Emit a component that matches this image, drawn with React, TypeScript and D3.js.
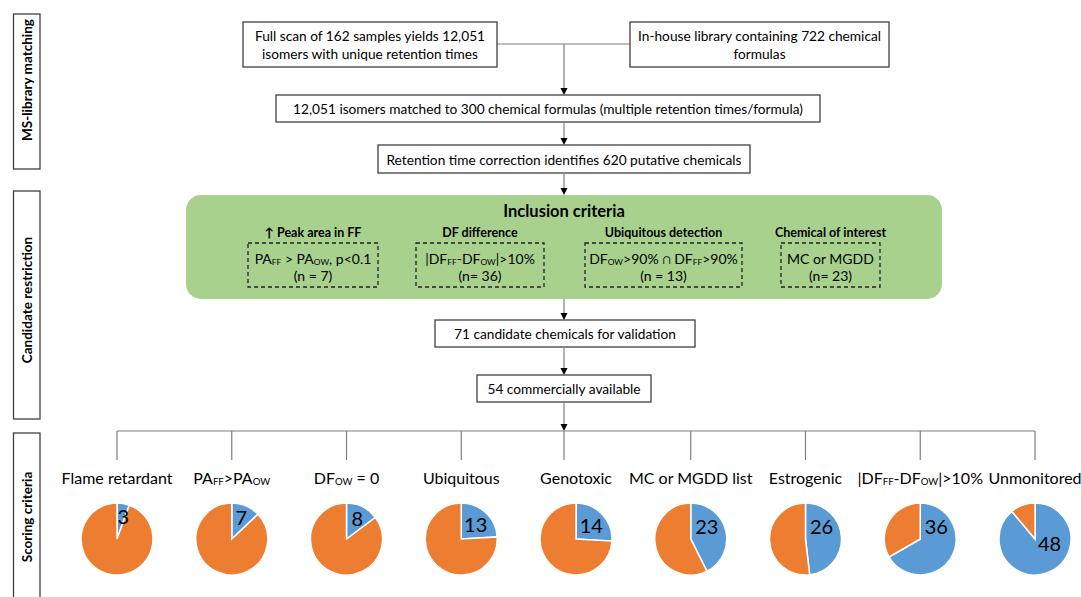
import * as d3 from 'd3';

// ---- data ----
const CRITERIA = [
  'Flame retardant',
  'PA_{FF}>PA_{OW}',
  'DF_{OW} = 0',
  'Ubiquitous',
  'Genotoxic',
  'MC or MGDD list',
  'Estrogenic',
  '|DF_{FF}-DF_{OW}|>10%',
  'Unmonitored',
];
const HITS = [3, 7, 8, 13, 14, 23, 26, 36, 48];
const TOTAL = 54;

const INCLUSION_HEADS = ['↑ Peak area in FF', 'DF difference', 'Ubiquitous detection', 'Chemical of interest'];
const INCLUSION_RULES = ['PA_{FF} > PA_{OW}, p<0.1', '|DF_{FF}-DF_{OW}|>10%', 'DF_{OW}>90% ∩ DF_{FF}>90%', 'MC or MGDD'];
const INCLUSION_N = ['(n = 7)', '(n= 36)', '(n = 13)', '(n= 23)'];

const SECTIONS = ['MS-library matching', 'Candidate restriction', 'Scoring criteria'];

// ---- layout ----
const W = 1081;
const H = 597;
const FONT = 'Lato, "Open Sans", sans-serif';
const FLOW_X = 564;
const LINE = '#7f7f7f';
const BOX_STROKE = '#404040';
const BLUE = '#5b9bd5';
const ORANGE = '#ed7d31';

// splits "PA_{FF}" into plain / subscript runs
function Rich({ s, fs }: { s: string; fs: number }) {
  const parts: { t: string; sub: boolean }[] = [];
  const re = /_\{([^}]*)\}/g;
  let last = 0;
  let m: RegExpExecArray | null;
  while ((m = re.exec(s))) {
    if (m.index > last) parts.push({ t: s.slice(last, m.index), sub: false });
    parts.push({ t: m[1], sub: true });
    last = m.index + m[0].length;
  }
  if (last < s.length) parts.push({ t: s.slice(last), sub: false });
  const shift = fs * 0.26;
  let prevSub = false;
  return (
    <>
      {parts.map((p, i) => {
        const dy = p.sub && !prevSub ? shift : !p.sub && prevSub ? -shift : 0;
        prevSub = p.sub;
        return (
          <tspan key={i} dy={dy || undefined} fontSize={p.sub ? fs * 0.6 : undefined}>
            {p.t}
          </tspan>
        );
      })}
    </>
  );
}

function Box({ x0, x1, y0, y1, lines, fs = 13.7 }: { x0: number; x1: number; y0: number; y1: number; lines: string[]; fs?: number }) {
  const cx = (x0 + x1) / 2;
  const cy = (y0 + y1) / 2;
  const lh = fs * 1.3;
  return (
    <g>
      <rect x={x0} y={y0} width={x1 - x0} height={y1 - y0} fill="#fff" stroke={BOX_STROKE} strokeWidth={1.3} />
      {lines.map((l, i) => (
        <text key={i} x={cx} y={cy + (i - (lines.length - 1) / 2) * lh} textAnchor="middle" dominantBaseline="central" fontSize={fs}>
          {l}
        </text>
      ))}
    </g>
  );
}

function Arrow({ x, y0, y1 }: { x: number; y0: number; y1: number }) {
  return (
    <g>
      <line x1={x} x2={x} y1={y0} y2={y1 - 5} stroke={LINE} strokeWidth={1.2} />
      <path d={`M${x - 3.5},${y1 - 7}L${x + 3.5},${y1 - 7}L${x},${y1}Z`} fill="#000" />
    </g>
  );
}

export default function App() {
  const xPie = d3.scalePoint<string>().domain(CRITERIA).range([117, 1035]);
  const pieY = 539;
  const r = 36;
  const pie = d3.pie<number>().sort(null).value((d) => d);
  const arc = d3.arc<d3.PieArcDatum<number>>().innerRadius(0).outerRadius(r);

  const inclBoxes = [
    [248, 378],
    [416, 544],
    [585, 742],
    [781, 880],
  ];
  const sectionBoxes = [
    { y0: 14, y1: 169, c: 80 },
    { y0: 191, y1: 419, c: 300 },
    { y0: 433, y1: 610, c: 517 },
  ];

  return (
    <svg width={W} height={H} style={{ position: 'absolute', left: 0, top: 0, background: '#fff' }} fontFamily={FONT} fill="#000">
      {/* section labels */}
      {SECTIONS.map((s, i) => {
        const b = sectionBoxes[i];
        return (
          <g key={s}>
            <rect x={13.5} y={b.y0} width={26.5} height={b.y1 - b.y0} fill="#fff" stroke={BOX_STROKE} strokeWidth={1.3} />
            <text transform={`translate(27,${b.c}) rotate(-90)`} textAnchor="middle" dominantBaseline="central" fontSize={13.5} fontWeight={700}>
              {s}
            </text>
          </g>
        );
      })}

      {/* MS-library matching */}
      <line x1={497} x2={630} y1={44} y2={44} stroke={LINE} strokeWidth={1.2} />
      <Arrow x={FLOW_X} y0={44} y1={95} />
      <Box x0={243} x1={497} y0={22} y1={67} lines={['Full scan of 162 samples yields 12,051', 'isomers with unique retention times']} />
      <Box x0={630} x1={889} y0={22} y1={67} lines={['In-house library containing 722 chemical', 'formulas']} />
      <Box x0={276} x1={820} y0={95} y1={122} lines={['12,051 isomers matched to 300 chemical formulas (multiple retention times/formula)']} />
      <Arrow x={FLOW_X} y0={122} y1={145} />
      <Box x0={378} x1={750} y0={145} y1={173} lines={['Retention time correction identifies 620 putative chemicals']} />
      <Arrow x={FLOW_X} y0={173} y1={195} />

      {/* inclusion criteria */}
      <rect x={186} y={195} width={756} height={104} rx={15} fill="#a9d18e" />
      <text x={FLOW_X} y={211} textAnchor="middle" dominantBaseline="central" fontSize={16.5} fontWeight={700}>
        Inclusion criteria
      </text>
      {INCLUSION_HEADS.map((h, i) => {
        const [a, b] = inclBoxes[i];
        const cx = (a + b) / 2;
        return (
          <g key={h}>
            <text x={cx} y={232} textAnchor="middle" dominantBaseline="central" fontSize={12.5} fontWeight={700}>
              {h}
            </text>
            <rect x={a} y={243} width={b - a} height={44} fill="none" stroke="#222" strokeWidth={1.3} strokeDasharray="4,3" />
            <text x={cx} y={258} textAnchor="middle" dominantBaseline="central" fontSize={14}>
              <Rich s={INCLUSION_RULES[i]} fs={14} />
            </text>
            <text x={cx} y={275} textAnchor="middle" dominantBaseline="central" fontSize={14}>
              {INCLUSION_N[i]}
            </text>
          </g>
        );
      })}

      <Arrow x={FLOW_X} y0={299} y1={320} />
      <Box x0={435} x1={695} y0={320} y1={347} lines={['71 candidate chemicals for validation']} />
      <Arrow x={FLOW_X} y0={347} y1={375} />
      <Box x0={477} x1={651} y0={375} y1={402} lines={['54 commercially available']} />
      <Arrow x={FLOW_X} y0={402} y1={431} />

      {/* scoring criteria */}
      <line x1={xPie(CRITERIA[0])} x2={xPie(CRITERIA[CRITERIA.length - 1])} y1={431} y2={431} stroke={LINE} strokeWidth={1.2} />
      {CRITERIA.map((c, i) => {
        const px = xPie(c) as number;
        const vx = Math.abs(px - FLOW_X) < 15 ? FLOW_X : px;
        const arcs = pie([HITS[i], TOTAL - HITS[i]]);
        const mid = (arcs[0].startAngle + arcs[0].endAngle) / 2;
        const deg = (mid * 180) / Math.PI;
        const la = deg > 150 ? (105 * Math.PI) / 180 : (Math.min(Math.max(deg, 15), 50) * Math.PI) / 180;
        const lr = deg > 150 ? 15 : deg < 30 ? 24 : 21;
        return (
          <g key={c}>
            <line x1={vx} x2={vx} y1={431} y2={460} stroke={LINE} strokeWidth={1.2} />
            <text x={Math.min(px, W - 44)} y={477} textAnchor="middle" dominantBaseline="central" fontSize={16}>
              <Rich s={c} fs={16} />
            </text>
            <g transform={`translate(${px},${pieY})`}>
              {arcs.map((a, j) => (
                <path key={j} d={arc(a) as string} fill={j === 0 ? BLUE : ORANGE} stroke="#fff" strokeWidth={1.5} />
              ))}
              <text x={lr * Math.sin(la)} y={-lr * Math.cos(la)} textAnchor="middle" dominantBaseline="central" fontSize={20}>
                {HITS[i]}
              </text>
            </g>
          </g>
        );
      })}
    </svg>
  );
}
